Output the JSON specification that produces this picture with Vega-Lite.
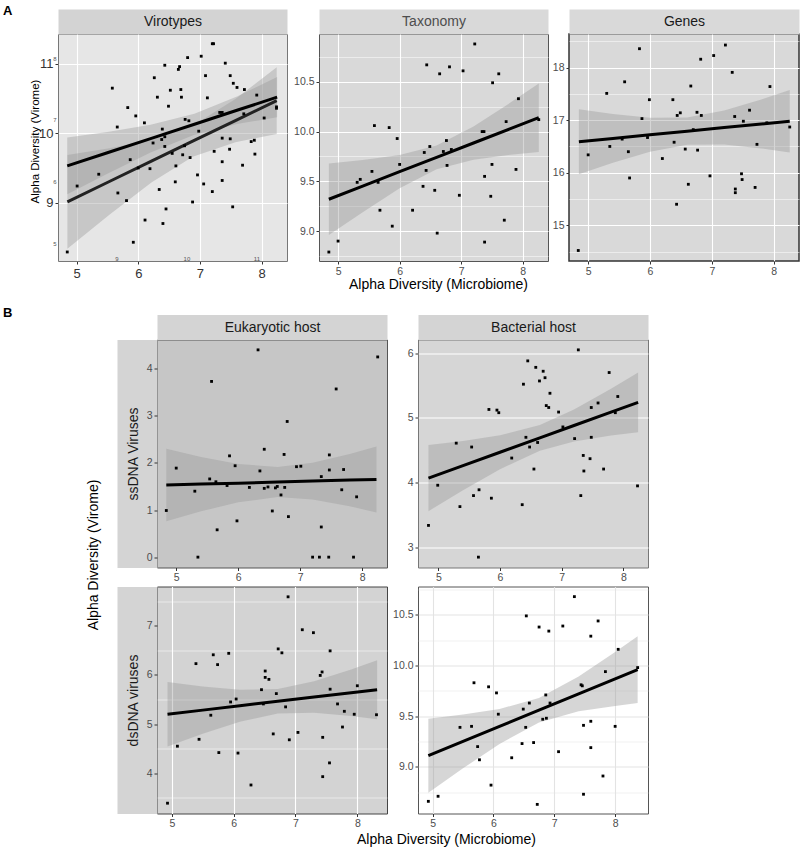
{
  "$schema": "https://vega.github.io/schema/vega-lite/v6.json",
  "padding": {"left": 3, "top": 4, "right": 0, "bottom": 0},
  "config": {
    "font": "Liberation Sans",
    "view": {"stroke": null},
    "axis": {"labelFont": "Liberation Sans", "labelColor": "#4d4d4d", "labelFontSize": 10.5, "tickColor": "#333333", "tickSize": 3, "domain": false, "gridColor": "#ffffff", "titleFont": "Liberation Sans", "titleFontWeight": "normal", "titleColor": "#000000", "labelPadding": 2, "labelOverlap": false, "labelFlush": false},
    "title": {"font": "Liberation Sans"}
  },
  "datasets": {
    "vir_pts": [{"x":4.85,"y":8.29},{"x":5.01,"y":9.24},{"x":5.36,"y":9.41},{"x":5.58,"y":10.65},{"x":5.66,"y":10.09},{"x":5.67,"y":9.14},{"x":5.81,"y":9.03},{"x":5.83,"y":10.37},{"x":5.87,"y":9.62},{"x":5.92,"y":8.43},{"x":5.96,"y":10.25},{"x":6.0,"y":9.5},{"x":6.1,"y":10.15},{"x":6.11,"y":8.75},{"x":6.19,"y":9.49},{"x":6.24,"y":9.86},{"x":6.26,"y":10.8},{"x":6.31,"y":10.52},{"x":6.34,"y":9.19},{"x":6.38,"y":9.91},{"x":6.39,"y":10.06},{"x":6.4,"y":8.7},{"x":6.43,"y":9.95},{"x":6.43,"y":9.81},{"x":6.43,"y":10.98},{"x":6.45,"y":8.91},{"x":6.49,"y":10.39},{"x":6.52,"y":10.62},{"x":6.55,"y":9.71},{"x":6.6,"y":9.3},{"x":6.61,"y":9.53},{"x":6.65,"y":10.92},{"x":6.67,"y":10.96},{"x":6.69,"y":10.63},{"x":6.7,"y":10.52},{"x":6.72,"y":9.69},{"x":6.75,"y":9.82},{"x":6.76,"y":10.2},{"x":6.8,"y":11.09},{"x":6.82,"y":10.18},{"x":6.84,"y":9.65},{"x":6.88,"y":9.01},{"x":6.96,"y":9.4},{"x":6.98,"y":10.03},{"x":7.02,"y":11.11},{"x":7.06,"y":9.27},{"x":7.09,"y":10.83},{"x":7.12,"y":10.51},{"x":7.2,"y":9.16},{"x":7.2,"y":11.29},{"x":7.22,"y":11.29},{"x":7.23,"y":9.74},{"x":7.32,"y":10.3},{"x":7.36,"y":10.3},{"x":7.36,"y":9.93},{"x":7.36,"y":9.59},{"x":7.36,"y":9.32},{"x":7.41,"y":11.01},{"x":7.48,"y":9.77},{"x":7.49,"y":10.83},{"x":7.49,"y":9.92},{"x":7.53,"y":8.94},{"x":7.54,"y":10.72},{"x":7.6,"y":10.66},{"x":7.69,"y":9.54},{"x":7.71,"y":10.28},{"x":7.72,"y":10.63},{"x":7.83,"y":9.88},{"x":7.88,"y":9.9},{"x":7.89,"y":9.7},{"x":7.92,"y":10.55},{"x":8.04,"y":10.22},{"x":8.24,"y":10.38},{"x":8.24,"y":10.36}],
    "vir_band1": [{"x":4.85,"lo":9.12,"hi":9.94,"fit":9.53},{"x":5.5,"lo":9.418,"hi":10.02,"fit":9.719},{"x":6.2,"lo":9.723,"hi":10.123,"fit":9.923},{"x":6.91,"lo":9.98,"hi":10.28,"fit":10.13},{"x":7.6,"lo":10.134,"hi":10.528,"fit":10.331},{"x":8.25,"lo":10.23,"hi":10.81,"fit":10.52}],
    "vir_band2": [{"x":8.3,"lo":4.91,"hi":6.43,"fit":5.67},{"x":8.9,"lo":5.461,"hi":6.537,"fit":5.999},{"x":9.5,"lo":5.984,"hi":6.672,"fit":6.328},{"x":10.09,"lo":6.402,"hi":6.902,"fit":6.652},{"x":10.7,"lo":6.637,"hi":7.335,"fit":6.986},{"x":11.29,"lo":6.769,"hi":7.851,"fit":7.31}],
    "tax_pts": [{"x":4.85,"y":8.79},{"x":5.0,"y":8.9},{"x":5.31,"y":9.49},{"x":5.36,"y":9.52},{"x":5.55,"y":9.6},{"x":5.59,"y":10.06},{"x":5.65,"y":9.49},{"x":5.68,"y":9.21},{"x":5.83,"y":10.04},{"x":5.88,"y":9.05},{"x":5.96,"y":9.93},{"x":6.0,"y":9.67},{"x":6.21,"y":9.21},{"x":6.38,"y":9.45},{"x":6.4,"y":9.79},{"x":6.44,"y":10.67},{"x":6.43,"y":9.61},{"x":6.49,"y":9.85},{"x":6.57,"y":9.41},{"x":6.61,"y":8.98},{"x":6.65,"y":10.58},{"x":6.71,"y":9.8},{"x":6.76,"y":9.91},{"x":6.77,"y":9.66},{"x":6.81,"y":10.65},{"x":6.84,"y":9.82},{"x":6.97,"y":9.36},{"x":7.03,"y":10.61},{"x":7.22,"y":10.88},{"x":7.34,"y":10.0},{"x":7.37,"y":10.0},{"x":7.38,"y":9.55},{"x":7.38,"y":8.89},{"x":7.48,"y":9.35},{"x":7.5,"y":9.67},{"x":7.51,"y":10.49},{"x":7.61,"y":10.58},{"x":7.7,"y":9.11},{"x":7.73,"y":10.1},{"x":7.89,"y":9.62},{"x":7.93,"y":10.33},{"x":8.26,"y":10.12}],
    "tax_band": [{"x":4.85,"lo":8.96,"hi":9.68,"fit":9.32},{"x":5.4,"lo":9.19,"hi":9.714,"fit":9.452},{"x":6.0,"lo":9.43,"hi":9.764,"fit":9.597},{"x":6.6,"lo":9.621,"hi":9.861,"fit":9.741},{"x":7.2,"lo":9.718,"hi":10.052,"fit":9.885},{"x":7.8,"lo":9.767,"hi":10.291,"fit":10.029},{"x":8.26,"lo":9.796,"hi":10.484,"fit":10.14}],
    "gen_pts": [{"x":4.84,"y":14.52},{"x":5.0,"y":16.34},{"x":5.3,"y":17.51},{"x":5.35,"y":16.5},{"x":5.55,"y":16.64},{"x":5.59,"y":17.73},{"x":5.65,"y":16.4},{"x":5.67,"y":15.9},{"x":5.83,"y":18.36},{"x":5.87,"y":17.03},{"x":5.96,"y":16.67},{"x":5.99,"y":17.39},{"x":6.2,"y":16.27},{"x":6.37,"y":17.39},{"x":6.39,"y":16.58},{"x":6.43,"y":15.4},{"x":6.44,"y":17.09},{"x":6.49,"y":17.14},{"x":6.57,"y":16.45},{"x":6.62,"y":15.78},{"x":6.66,"y":17.65},{"x":6.7,"y":16.82},{"x":6.76,"y":17.15},{"x":6.77,"y":16.43},{"x":6.82,"y":18.16},{"x":6.83,"y":17.09},{"x":6.97,"y":15.94},{"x":7.03,"y":18.23},{"x":7.22,"y":18.43},{"x":7.33,"y":17.91},{"x":7.37,"y":17.07},{"x":7.38,"y":15.69},{"x":7.38,"y":15.62},{"x":7.48,"y":15.98},{"x":7.49,"y":15.87},{"x":7.51,"y":16.98},{"x":7.61,"y":17.19},{"x":7.7,"y":15.72},{"x":7.73,"y":16.54},{"x":7.89,"y":16.95},{"x":7.94,"y":17.64},{"x":8.26,"y":16.87}],
    "gen_band": [{"x":4.85,"lo":15.97,"hi":17.21,"fit":16.59},{"x":5.4,"lo":16.188,"hi":17.118,"fit":16.653},{"x":6.0,"lo":16.398,"hi":17.046,"fit":16.722},{"x":6.6,"lo":16.53,"hi":17.05,"fit":16.79},{"x":7.2,"lo":16.535,"hi":17.183,"fit":16.859},{"x":7.8,"lo":16.463,"hi":17.393,"fit":16.928},{"x":8.26,"lo":16.386,"hi":17.574,"fit":16.98}],
    "ess_pts": [{"x":4.84,"y":0.99},{"x":5.0,"y":1.89},{"x":5.3,"y":1.4},{"x":5.35,"y":0.0},{"x":5.54,"y":1.66},{"x":5.57,"y":3.73},{"x":5.64,"y":1.6},{"x":5.66,"y":0.58},{"x":5.82,"y":1.52},{"x":5.86,"y":2.15},{"x":5.95,"y":1.94},{"x":5.98,"y":0.77},{"x":6.18,"y":1.48},{"x":6.32,"y":4.4},{"x":6.35,"y":1.83},{"x":6.42,"y":2.29},{"x":6.42,"y":1.46},{"x":6.48,"y":1.49},{"x":6.55,"y":0.98},{"x":6.6,"y":1.47},{"x":6.63,"y":1.5},{"x":6.69,"y":1.32},{"x":6.74,"y":2.18},{"x":6.75,"y":1.48},{"x":6.79,"y":2.88},{"x":6.81,"y":0.86},{"x":6.94,"y":1.92},{"x":7.01,"y":1.93},{"x":7.2,"y":0.0},{"x":7.31,"y":0.0},{"x":7.34,"y":1.71},{"x":7.34,"y":0.64},{"x":7.46,"y":0.0},{"x":7.47,"y":2.17},{"x":7.47,"y":1.85},{"x":7.58,"y":3.57},{"x":7.67,"y":1.43},{"x":7.7,"y":1.86},{"x":7.86,"y":0.0},{"x":7.91,"y":1.28},{"x":8.25,"y":4.25}],
    "ess_band": [{"x":4.84,"lo":0.76,"hi":2.3,"fit":1.53},{"x":5.4,"lo":0.972,"hi":2.128,"fit":1.55},{"x":6.0,"lo":1.166,"hi":1.976,"fit":1.571},{"x":6.635,"lo":1.274,"hi":1.914,"fit":1.594},{"x":7.2,"lo":1.225,"hi":2.003,"fit":1.614},{"x":7.8,"lo":1.079,"hi":2.191,"fit":1.635},{"x":8.23,"lo":0.95,"hi":2.35,"fit":1.65}],
    "bss_pts": [{"x":4.84,"y":3.34},{"x":4.99,"y":3.96},{"x":5.29,"y":4.61},{"x":5.35,"y":3.63},{"x":5.54,"y":4.55},{"x":5.57,"y":3.8},{"x":5.65,"y":2.85},{"x":5.66,"y":3.89},{"x":5.82,"y":5.13},{"x":5.86,"y":3.76},{"x":5.95,"y":5.12},{"x":5.98,"y":5.08},{"x":6.19,"y":4.38},{"x":6.36,"y":3.66},{"x":6.38,"y":5.52},{"x":6.42,"y":4.7},{"x":6.45,"y":5.88},{"x":6.48,"y":4.55},{"x":6.55,"y":4.21},{"x":6.58,"y":5.78},{"x":6.61,"y":4.62},{"x":6.64,"y":5.57},{"x":6.7,"y":5.72},{"x":6.73,"y":5.62},{"x":6.75,"y":5.19},{"x":6.79,"y":5.16},{"x":6.81,"y":5.38},{"x":6.95,"y":5.09},{"x":7.02,"y":4.86},{"x":7.21,"y":4.68},{"x":7.27,"y":6.05},{"x":7.31,"y":3.8},{"x":7.35,"y":4.42},{"x":7.36,"y":4.18},{"x":7.46,"y":4.37},{"x":7.48,"y":5.16},{"x":7.48,"y":4.7},{"x":7.59,"y":5.23},{"x":7.68,"y":4.21},{"x":7.77,"y":5.7},{"x":7.87,"y":5.08},{"x":7.91,"y":5.33},{"x":8.23,"y":3.95}],
    "bss_band": [{"x":4.84,"lo":3.56,"hi":4.58,"fit":4.07},{"x":5.4,"lo":3.882,"hi":4.644,"fit":4.263},{"x":6.0,"lo":4.208,"hi":4.73,"fit":4.469},{"x":6.646,"lo":4.491,"hi":4.891,"fit":4.691},{"x":7.2,"lo":4.636,"hi":5.128,"fit":4.882},{"x":7.8,"lo":4.728,"hi":5.448,"fit":5.088},{"x":8.24,"lo":4.78,"hi":5.7,"fit":5.24}],
    "eds_pts": [{"x":4.93,"y":3.39},{"x":5.09,"y":4.55},{"x":5.39,"y":6.23},{"x":5.44,"y":4.69},{"x":5.63,"y":5.18},{"x":5.67,"y":6.41},{"x":5.74,"y":6.21},{"x":5.76,"y":4.42},{"x":5.92,"y":6.44},{"x":5.95,"y":5.45},{"x":6.04,"y":5.51},{"x":6.07,"y":4.41},{"x":6.28,"y":3.76},{"x":6.45,"y":5.7},{"x":6.48,"y":5.41},{"x":6.51,"y":6.08},{"x":6.51,"y":5.95},{"x":6.57,"y":5.91},{"x":6.64,"y":4.8},{"x":6.69,"y":5.62},{"x":6.72,"y":6.53},{"x":6.78,"y":6.45},{"x":6.84,"y":5.35},{"x":6.88,"y":7.59},{"x":6.9,"y":4.68},{"x":7.04,"y":4.83},{"x":7.11,"y":6.92},{"x":7.29,"y":6.86},{"x":7.4,"y":5.99},{"x":7.43,"y":6.06},{"x":7.44,"y":4.73},{"x":7.44,"y":3.93},{"x":7.55,"y":4.21},{"x":7.56,"y":5.71},{"x":7.56,"y":6.49},{"x":7.68,"y":5.41},{"x":7.76,"y":4.94},{"x":7.79,"y":5.26},{"x":7.95,"y":5.2},{"x":8.0,"y":5.78},{"x":8.31,"y":5.19}],
    "eds_band": [{"x":4.93,"lo":4.545,"hi":5.855,"fit":5.2},{"x":5.5,"lo":4.802,"hi":5.766,"fit":5.284},{"x":6.1,"lo":5.048,"hi":5.698,"fit":5.373},{"x":6.713,"lo":5.213,"hi":5.713,"fit":5.463},{"x":7.3,"lo":5.23,"hi":5.87,"fit":5.55},{"x":7.9,"lo":5.164,"hi":6.112,"fit":5.638},{"x":8.32,"lo":5.1,"hi":6.3,"fit":5.7}],
    "bds_pts": [{"x":4.93,"y":8.66},{"x":5.09,"y":8.71},{"x":5.45,"y":9.39},{"x":5.64,"y":9.4},{"x":5.68,"y":9.83},{"x":5.74,"y":9.2},{"x":5.77,"y":9.07},{"x":5.92,"y":9.79},{"x":5.96,"y":8.82},{"x":6.05,"y":9.73},{"x":6.08,"y":9.52},{"x":6.3,"y":9.09},{"x":6.47,"y":9.23},{"x":6.49,"y":9.57},{"x":6.53,"y":9.39},{"x":6.54,"y":10.49},{"x":6.59,"y":9.63},{"x":6.66,"y":9.24},{"x":6.72,"y":8.63},{"x":6.75,"y":10.38},{"x":6.81,"y":9.47},{"x":6.86,"y":9.71},{"x":6.87,"y":9.48},{"x":6.91,"y":10.34},{"x":6.93,"y":9.63},{"x":7.07,"y":9.15},{"x":7.14,"y":10.39},{"x":7.33,"y":10.68},{"x":7.44,"y":9.81},{"x":7.46,"y":9.8},{"x":7.48,"y":9.41},{"x":7.48,"y":8.73},{"x":7.6,"y":9.45},{"x":7.6,"y":9.19},{"x":7.6,"y":10.29},{"x":7.72,"y":10.44},{"x":7.8,"y":8.91},{"x":7.84,"y":9.94},{"x":8.0,"y":9.4},{"x":8.05,"y":10.16},{"x":8.37,"y":9.98}],
    "bds_band": [{"x":4.93,"lo":8.745,"hi":9.475,"fit":9.11},{"x":5.5,"lo":8.986,"hi":9.516,"fit":9.251},{"x":6.1,"lo":9.227,"hi":9.571,"fit":9.399},{"x":6.748,"lo":9.439,"hi":9.679,"fit":9.559},{"x":7.4,"lo":9.548,"hi":9.892,"fit":9.72},{"x":8.0,"lo":9.602,"hi":10.134,"fit":9.868},{"x":8.37,"lo":9.63,"hi":10.29,"fit":9.96}]
  },
  "spacing": 14.5,
  "vconcat": [
    {
      "title": {"text": "A", "anchor": "start", "orient": "top", "fontSize": 13, "fontWeight": "bold", "dx": -55, "offset": -13.8, "baseline": "alphabetic", "frame": "group", "color": "#000000"},
      "bounds": "flush",
      "spacing": 0,
      "hconcat": [
        {"width": 229, "height": 227, "view": {"fill": "#e6e6e6", "stroke": "#777777"},
         "resolve": {"scale": {"x": "independent", "y": "independent"}, "axis": {"x": "independent", "y": "independent"}},
         "layer": [
           {"data": {"name": "vir_band1"}, "mark": {"type": "area", "color": "#999999", "opacity": 0.4},
            "encoding": {
              "x": {"field": "x", "type": "quantitative", "scale": {"domain": [4.70, 8.41], "nice": false, "zero": false}, "axis": {"orient": "bottom", "title": null, "format": "d", "values": [5,6,7,8], "labelFontSize": 13, "labelColor": "#333333", "gridWidth": 1.1, "labelPadding": 3}},
              "y": {"field": "lo", "type": "quantitative", "scale": {"domain": [8.16, 11.43], "nice": false, "zero": false}, "axis": {"orient": "left", "title": "Alpha Diversity (Virome)", "titleFontSize": 11.5, "titleX": -23, "titleY": 107, "titleBaseline": "middle", "format": "d", "values": [9,10,11], "labelFontSize": 13, "labelColor": "#333333", "gridWidth": 1.1}},
              "y2": {"field": "hi"}}},
           {"layer": [
             {"data": {"name": "vir_band2"}, "mark": {"type": "area", "color": "#999999", "opacity": 0.4},
              "encoding": {
                "x": {"field": "x", "type": "quantitative", "scale": {"domain": [8.166, 11.437], "nice": false, "zero": false}, "axis": {"orient": "bottom", "title": null, "format": "d", "values": [9,10,11], "labelFontSize": 6, "labelColor": "#555555", "tickSize": 0, "labelPadding": -6, "gridWidth": 1}},
                "y": {"field": "lo", "type": "quantitative", "scale": {"domain": [4.71, 8.39], "nice": false, "zero": false}, "axis": {"orient": "left", "title": null, "format": "d", "values": [5,5.5,6,6.5,7,7.5,8], "labelOpacity": {"condition": {"test": "datum.value % 1 !== 0", "value": 0}, "value": 1}, "labelFontSize": 6, "labelColor": "#555555", "tickSize": 0, "labelPadding": 2, "gridWidth": 1}},
                "y2": {"field": "hi"}}},
             {"data": {"name": "vir_band2"}, "mark": {"type": "line", "color": "#222222", "strokeWidth": 3}, "encoding": {"x": {"field": "x", "type": "quantitative"}, "y": {"field": "fit", "type": "quantitative"}}}
           ]},
           {"layer": [
             {"data": {"name": "vir_band1"}, "mark": {"type": "line", "color": "#000000", "strokeWidth": 3},
              "encoding": {
                "x": {"field": "x", "type": "quantitative", "scale": {"domain": [4.70, 8.41], "nice": false, "zero": false}, "axis": {"orient": "top", "title": "Virotypes", "labels": false, "ticks": false, "grid": false, "domain": true, "domainColor": "#d3d3d3", "domainWidth": 25, "offset": 12.5, "titleFontSize": 14, "titleColor": "#1a1a1a", "titleX": 114.5, "titleY": 0, "titleBaseline": "middle", "titlePadding": 0}},
                "y": {"field": "fit", "type": "quantitative", "scale": {"domain": [8.16, 11.43], "nice": false, "zero": false}, "axis": null}}},
             {"data": {"name": "vir_pts"}, "mark": {"type": "square", "color": "#000000", "size": 8, "opacity": 1}, "encoding": {"x": {"field": "x", "type": "quantitative"}, "y": {"field": "y", "type": "quantitative"}}}
           ]}
         ]},
        {"width": 32, "height": 10, "data": {"values": [{"v": 0}]}, "mark": {"type": "point", "opacity": 0}},
        {"width": 229, "height": 227, "view": {"fill": "#d9d9d9", "stroke": "#555555"},
         "resolve": {"axis": {"x": "independent", "y": "independent"}},
         "layer": [
           {"data": {"name": "tax_band"}, "mark": {"type": "area", "color": "#999999", "opacity": 0.4},
            "encoding": {
              "x": {"field": "x", "type": "quantitative", "scale": {"domain": [4.69, 8.41], "nice": false, "zero": false}, "axis": {"orient": "bottom", "title": "Alpha Diversity (Microbiome)", "titleFontSize": 14, "titleX": 119, "titleY": 16, "titleBaseline": "top", "format": "d", "values": [5,5.5,6,6.5,7,7.5,8], "labelOpacity": {"condition": {"test": "datum.value % 1 !== 0", "value": 0}, "value": 1}, "gridWidth": {"condition": {"test": "datum.value % 1 !== 0", "value": 0.5}, "value": 1.1}, "tickOpacity": {"condition": {"test": "datum.value % 1 !== 0", "value": 0}, "value": 1}}},
              "y": {"field": "lo", "type": "quantitative", "scale": {"domain": [8.70, 10.98], "nice": false, "zero": false}, "axis": {"orient": "left", "title": null, "format": ".1f", "values": [9,9.5,10,10.5], "gridWidth": 1.1}},
              "y2": {"field": "hi"}}},
           {"layer": [
             {"data": {"name": "tax_band"}, "mark": {"type": "line", "color": "#000000", "strokeWidth": 3}, "encoding": {
               "x": {"field": "x", "type": "quantitative", "axis": {"orient": "top", "title": "Taxonomy", "labels": false, "ticks": false, "grid": false, "domain": true, "domainColor": "#d9d9d9", "domainWidth": 25, "offset": 12.5, "titleFontSize": 14, "titleColor": "#4d4d4d", "titleX": 114.5, "titleY": 0, "titleBaseline": "middle", "titlePadding": 0}},
               "y": {"field": "fit", "type": "quantitative", "axis": {"orient": "left", "title": null, "values": [8.75,9.25,9.75,10.25,10.75], "labels": false, "ticks": false, "grid": true, "gridWidth": 0.5}}}},
             {"data": {"name": "tax_pts"}, "mark": {"type": "square", "color": "#000000", "size": 8, "opacity": 1}, "encoding": {"x": {"field": "x", "type": "quantitative"}, "y": {"field": "y", "type": "quantitative"}}}
           ]}
         ]},
        {"width": 21, "height": 10, "data": {"values": [{"v": 0}]}, "mark": {"type": "point", "opacity": 0}},
        {"width": 230, "height": 227, "view": {"fill": "#d9d9d9", "stroke": "#333333", "strokeWidth": 1.5},
         "resolve": {"axis": {"x": "independent", "y": "independent"}},
         "layer": [
           {"data": {"name": "gen_band"}, "mark": {"type": "area", "color": "#999999", "opacity": 0.4},
            "encoding": {
              "x": {"field": "x", "type": "quantitative", "scale": {"domain": [4.69, 8.41], "nice": false, "zero": false}, "axis": {"orient": "bottom", "title": null, "format": "d", "values": [5,5.5,6,6.5,7,7.5,8], "labelOpacity": {"condition": {"test": "datum.value % 1 !== 0", "value": 0}, "value": 1}, "gridWidth": {"condition": {"test": "datum.value % 1 !== 0", "value": 0.5}, "value": 1.1}, "tickOpacity": {"condition": {"test": "datum.value % 1 !== 0", "value": 0}, "value": 1}}},
              "y": {"field": "lo", "type": "quantitative", "scale": {"domain": [14.32, 18.64], "nice": false, "zero": false}, "axis": {"orient": "left", "title": null, "format": "d", "values": [15,16,17,18], "gridWidth": 1.1}},
              "y2": {"field": "hi"}}},
           {"layer": [
             {"data": {"name": "gen_band"}, "mark": {"type": "line", "color": "#000000", "strokeWidth": 3}, "encoding": {
               "x": {"field": "x", "type": "quantitative", "axis": {"orient": "top", "title": "Genes", "labels": false, "ticks": false, "grid": false, "domain": true, "domainColor": "#d9d9d9", "domainWidth": 25, "offset": 12.5, "titleFontSize": 14, "titleColor": "#1a1a1a", "titleX": 115, "titleY": 0, "titleBaseline": "middle", "titlePadding": 0}},
               "y": {"field": "fit", "type": "quantitative", "axis": {"orient": "left", "title": null, "values": [14.5,15.5,16.5,17.5,18.5], "labels": false, "ticks": false, "grid": true, "gridWidth": 0.5}}}},
             {"data": {"name": "gen_pts"}, "mark": {"type": "square", "color": "#000000", "size": 8, "opacity": 1}, "encoding": {"x": {"field": "x", "type": "quantitative"}, "y": {"field": "y", "type": "quantitative"}}}
           ]}
         ]}
      ]
    },
    {
      "title": {"text": "B", "anchor": "start", "orient": "top", "fontSize": 13, "fontWeight": "bold", "dx": -55, "offset": -10.8, "baseline": "alphabetic", "frame": "group", "color": "#000000"},
      "bounds": "flush",
      "columns": 3,
      "spacing": {"row": 19, "column": 31},
      "concat": [
        {"width": 67.7, "height": 10, "data": {"values": [{"v": 0}]}, "mark": {"type": "point", "opacity": 0}},
        {"width": 230, "height": 228, "view": {"fill": "#c6c6c6", "stroke": "#555555"},
         "resolve": {"axis": {"x": "independent", "y": "independent"}},
         "layer": [
           {"data": {"name": "ess_band"}, "mark": {"type": "area", "color": "#999999", "opacity": 0.4},
            "encoding": {
              "x": {"field": "x", "type": "quantitative", "scale": {"domain": [4.69, 8.40], "nice": false, "zero": false}, "axis": {"orient": "top", "title": "Eukaryotic host", "labels": false, "ticks": false, "grid": false, "domain": true, "domainColor": "#d4d4d4", "domainWidth": 25, "offset": 12.5, "titleFontSize": 14, "titleColor": "#1a1a1a", "titleX": 115, "titleY": 0, "titleBaseline": "middle", "titlePadding": 0}},
              "y": {"field": "lo", "type": "quantitative", "scale": {"domain": [-0.22, 4.62], "nice": false, "zero": false}, "axis": {"orient": "left", "title": "ssDNA Viruses", "labels": false, "ticks": false, "grid": false, "domain": true, "domainColor": "#d4d4d4", "domainWidth": 40, "offset": 20, "titleFontSize": 14, "titleColor": "#1a1a1a", "titleX": -4, "titleY": 114, "titleAngle": 270, "titleBaseline": "middle", "titlePadding": 0}},
              "y2": {"field": "hi"}}},
           {"layer": [
             {"data": {"name": "ess_band"}, "mark": {"type": "line", "color": "#000000", "strokeWidth": 3},
              "encoding": {
                "x": {"field": "x", "type": "quantitative", "axis": {"orient": "bottom", "title": null, "gridColor": "#e6e6e6", "format": "d", "values": [5,5.5,6,6.5,7,7.5,8], "labelOpacity": {"condition": {"test": "datum.value % 1 !== 0", "value": 0}, "value": 1}, "gridWidth": {"condition": {"test": "datum.value % 1 !== 0", "value": 0.5}, "value": 1.1}, "tickOpacity": {"condition": {"test": "datum.value % 1 !== 0", "value": 0}, "value": 1}}},
                "y": {"field": "fit", "type": "quantitative", "axis": {"orient": "left", "title": null, "gridColor": "#e6e6e6", "format": "d", "values": [0,0.5,1,1.5,2,2.5,3,3.5,4,4.5], "labelOpacity": {"condition": {"test": "datum.value % 1 !== 0", "value": 0}, "value": 1}, "gridWidth": {"condition": {"test": "datum.value % 1 !== 0", "value": 0.5}, "value": 1.1}, "tickOpacity": {"condition": {"test": "datum.value % 1 !== 0", "value": 0}, "value": 1}}}}},
             {"data": {"name": "ess_pts"}, "mark": {"type": "square", "color": "#000000", "size": 8, "opacity": 1}, "encoding": {"x": {"field": "x", "type": "quantitative"}, "y": {"field": "y", "type": "quantitative"}}}
           ]}
         ]},
        {"width": 230, "height": 228, "view": {"fill": "#d6d6d6", "stroke": "#777777"},
         "resolve": {"axis": {"x": "independent"}},
         "layer": [
           {"data": {"name": "bss_band"}, "mark": {"type": "area", "color": "#999999", "opacity": 0.4},
            "encoding": {
              "x": {"field": "x", "type": "quantitative", "scale": {"domain": [4.67, 8.40], "nice": false, "zero": false}, "axis": {"orient": "top", "title": "Bacterial host", "labels": false, "ticks": false, "grid": false, "domain": true, "domainColor": "#d4d4d4", "domainWidth": 25, "offset": 12.5, "titleFontSize": 14, "titleColor": "#1a1a1a", "titleX": 115, "titleY": 0, "titleBaseline": "middle", "titlePadding": 0}},
              "y": {"field": "lo", "type": "quantitative", "scale": {"domain": [2.69, 6.21], "nice": false, "zero": false}, "axis": {"orient": "left", "title": null, "format": "d", "values": [3,3.5,4,4.5,5,5.5,6], "labelOpacity": {"condition": {"test": "datum.value % 1 !== 0", "value": 0}, "value": 1}, "gridWidth": {"condition": {"test": "datum.value % 1 !== 0", "value": 0.5}, "value": 1.1}, "tickOpacity": {"condition": {"test": "datum.value % 1 !== 0", "value": 0}, "value": 1}}},
              "y2": {"field": "hi"}}},
           {"layer": [
             {"data": {"name": "bss_band"}, "mark": {"type": "line", "color": "#000000", "strokeWidth": 3},
              "encoding": {
                "x": {"field": "x", "type": "quantitative", "axis": {"orient": "bottom", "title": null, "format": "d", "values": [5,5.5,6,6.5,7,7.5,8], "labelOpacity": {"condition": {"test": "datum.value % 1 !== 0", "value": 0}, "value": 1}, "gridWidth": {"condition": {"test": "datum.value % 1 !== 0", "value": 0.5}, "value": 1.1}, "tickOpacity": {"condition": {"test": "datum.value % 1 !== 0", "value": 0}, "value": 1}}},
                "y": {"field": "fit", "type": "quantitative"}}},
             {"data": {"name": "bss_pts"}, "mark": {"type": "square", "color": "#000000", "size": 8, "opacity": 1}, "encoding": {"x": {"field": "x", "type": "quantitative"}, "y": {"field": "y", "type": "quantitative"}}}
           ]}
         ]},
        {"width": 67.7, "height": 10, "data": {"values": [{"v": 0}]}, "mark": {"type": "point", "opacity": 0}},
        {"width": 230, "height": 227, "view": {"fill": "#d3d3d3", "stroke": "#444444"},
         "resolve": {"axis": {"y": "independent"}},
         "layer": [
           {"data": {"name": "eds_band"}, "mark": {"type": "area", "color": "#999999", "opacity": 0.4},
            "encoding": {
              "x": {"field": "x", "type": "quantitative", "scale": {"domain": [4.76, 8.48], "nice": false, "zero": false}, "axis": {"orient": "bottom", "title": "Alpha Diversity (Microbiome)", "titleFontSize": 14, "titleX": 289, "titleY": 19, "titleBaseline": "top", "format": "d", "values": [5,5.5,6,6.5,7,7.5,8], "labelOpacity": {"condition": {"test": "datum.value % 1 !== 0", "value": 0}, "value": 1}, "gridWidth": {"condition": {"test": "datum.value % 1 !== 0", "value": 0.5}, "value": 1.1}, "tickOpacity": {"condition": {"test": "datum.value % 1 !== 0", "value": 0}, "value": 1}}},
              "y": {"field": "lo", "type": "quantitative", "scale": {"domain": [3.18, 7.8], "nice": false, "zero": false}, "axis": {"orient": "left", "title": "dsDNA viruses", "labels": false, "ticks": false, "grid": false, "domain": true, "domainColor": "#d4d4d4", "domainWidth": 40, "offset": 20, "titleFontSize": 14, "titleColor": "#1a1a1a", "titleX": -4, "titleY": 113.5, "titleAngle": 270, "titleBaseline": "middle", "titlePadding": 0}},
              "y2": {"field": "hi"}}},
           {"data": {"name": "eds_band"}, "mark": {"type": "line", "color": "#000000", "strokeWidth": 3},
            "encoding": {
              "x": {"field": "x", "type": "quantitative"},
              "y": {"field": "fit", "type": "quantitative", "axis": {"orient": "left", "title": "Alpha Diversity (Virome)", "titleFontSize": 14, "titleX": -64, "titleY": -32, "titleBaseline": "middle", "titleAngle": 270, "format": "d", "values": [4,5,6,7], "gridWidth": 1.1}}}},
           {"data": {"name": "eds_pts"}, "mark": {"type": "square", "color": "#000000", "size": 8, "opacity": 1},
            "encoding": {
              "x": {"field": "x", "type": "quantitative"},
              "y": {"field": "y", "type": "quantitative", "axis": {"orient": "left", "title": null, "values": [3.5,4.5,5.5,6.5,7.5], "labels": false, "ticks": false, "grid": true, "gridWidth": 0.5}}}}
         ]},
        {"width": 230, "height": 227, "view": {"fill": "#ffffff", "stroke": "#555555"},
         "resolve": {"axis": {"y": "independent"}},
         "layer": [
           {"data": {"name": "bds_band"}, "mark": {"type": "area", "color": "#999999", "opacity": 0.4},
            "encoding": {
              "x": {"field": "x", "type": "quantitative", "scale": {"domain": [4.76, 8.54], "nice": false, "zero": false}, "axis": {"title": null, "gridColor": "#e3e3e3", "format": "d", "values": [5,5.5,6,6.5,7,7.5,8,8.5], "labelOpacity": {"condition": {"test": "datum.value % 1 !== 0", "value": 0}, "value": 1}, "gridWidth": {"condition": {"test": "datum.value % 1 !== 0", "value": 0.5}, "value": 1.1}, "tickOpacity": {"condition": {"test": "datum.value % 1 !== 0", "value": 0}, "value": 1}}},
              "y": {"field": "lo", "type": "quantitative", "scale": {"domain": [8.54, 10.78], "nice": false, "zero": false}, "axis": {"orient": "left", "title": null, "gridColor": "#e3e3e3", "format": ".1f", "values": [9,9.5,10,10.5], "gridWidth": 1.1}},
              "y2": {"field": "hi"}}},
           {"layer": [
             {"data": {"name": "bds_band"}, "mark": {"type": "line", "color": "#000000", "strokeWidth": 3}, "encoding": {
               "x": {"field": "x", "type": "quantitative"},
               "y": {"field": "fit", "type": "quantitative", "axis": {"orient": "left", "title": null, "gridColor": "#e3e3e3", "values": [8.75,9.25,9.75,10.25,10.75], "labels": false, "ticks": false, "grid": true, "gridWidth": 0.5}}}},
             {"data": {"name": "bds_pts"}, "mark": {"type": "square", "color": "#000000", "size": 8, "opacity": 1}, "encoding": {"x": {"field": "x", "type": "quantitative"}, "y": {"field": "y", "type": "quantitative"}}}
           ]}
         ]}
      ]
    }
  ]
}
